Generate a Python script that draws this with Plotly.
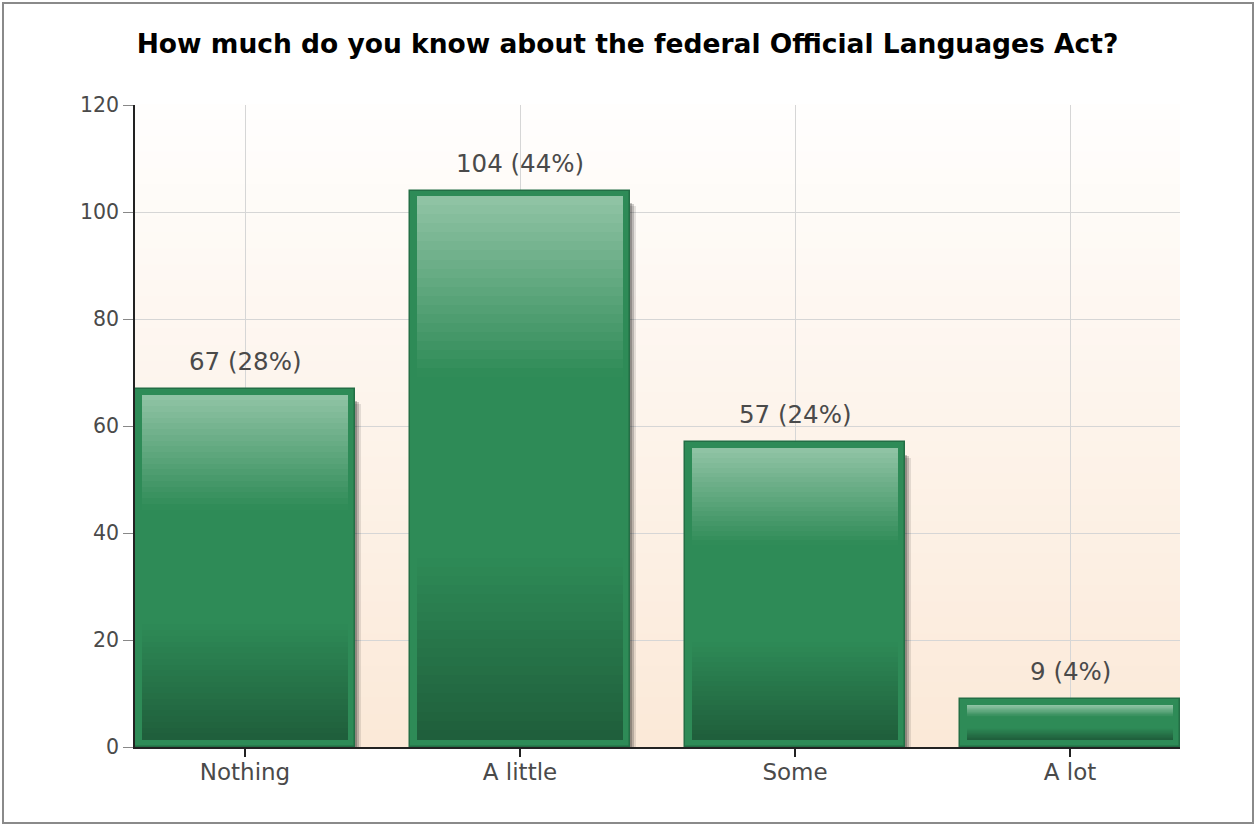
import plotly.graph_objects as go

# Survey responses
categories = ["Nothing", "A little", "Some", "A lot"]
counts = [67, 104, 57, 9]

y_ticks = [0, 20, 40, 60, 80, 100, 120]

# Figure geometry
W, H = 1255, 825
M_L, M_R, M_T, M_B = 135, 75, 105, 78
PLOT_W = W - M_L - M_R
PLOT_H = H - M_T - M_B
X_RANGE = [-0.4, 3.4]
Y_RANGE = [0, 120]
XU = (X_RANGE[1] - X_RANGE[0]) / PLOT_W   # x units per pixel
YU = (Y_RANGE[1] - Y_RANGE[0]) / PLOT_H   # y units per pixel

BAR_W = 0.8
FONT = "DejaVu Sans"
TXT = "#4a4a4a"

total = sum(counts)
labels = [f"{v} ({round(100 * v / total)}%)" for v in counts]


def lerp(c1, c2, t):
    a = [int(c1[i:i + 2], 16) for i in (1, 3, 5)]
    b = [int(c2[i:i + 2], 16) for i in (1, 3, 5)]
    return "rgb(%d,%d,%d)" % tuple(round(a[k] + (b[k] - a[k]) * t) for k in range(3))


# vertical colour profile of the bar fill (0 = top, 1 = bottom)
stops = [(0.0, "#92c4a6"), (0.33, "#2e8b57"), (0.66, "#2e8b57"), (1.0, "#1f5e3b")]


def profile(f):
    for (f0, c0), (f1, c1) in zip(stops[:-1], stops[1:]):
        if f <= f1:
            return lerp(c0, c1, (f - f0) / (f1 - f0) if f1 > f0 else 0)
    return stops[-1][1]


fig = go.Figure()

# soft drop shadow to the right of each bar
for dx, dy, alpha in [(6, 5, 0.10), (4, 3, 0.18), (2, 2, 0.22)]:
    fig.add_trace(go.Bar(
        x=list(range(len(categories))), y=[v - dy * YU for v in counts], base=[-2] * len(counts),
        width=BAR_W, offset=-BAR_W / 2 + dx * XU,
        marker=dict(color=f"rgba(0,0,0,{alpha})", line=dict(width=0)),
        hoverinfo="skip", showlegend=False,
    ))

# outer frame of each bar
fig.add_trace(go.Bar(
    x=list(range(len(categories))), y=counts, width=BAR_W,
    marker=dict(color="#2e8b57", line=dict(color="#236e45", width=1.5)),
    hoverinfo="skip", showlegend=False,
))

# inner gradient, built from thin stacked slices
N = 60
inset_x = 7 * XU
inset_y = 7 * YU
inner_h = [max(v - 2 * inset_y, 0) for v in counts]
for i in range(N):
    f = (i + 0.5) / N
    fig.add_trace(go.Bar(
        x=list(range(len(categories))),
        y=[h / N * 1.15 for h in inner_h],
        base=[inset_y + h * (N - 1 - i) / N for h in inner_h],
        width=BAR_W - 2 * inset_x,
        marker=dict(color=profile(f), line=dict(width=0)),
        hoverinfo="skip", showlegend=False,
    ))

# value labels above the bars
for i, (v, t) in enumerate(zip(counts, labels)):
    fig.add_annotation(
        x=i, y=v, text=t, showarrow=False, yanchor="bottom", yshift=11,
        font=dict(family=FONT, size=24.5, color=TXT),
    )

# plot-area background: white fading to pale peach
NB = 40
for i in range(NB):
    t = (i + 0.5) / NB
    fig.add_shape(
        type="rect", xref="x domain", yref="y domain",
        x0=0, x1=1, y0=1 - (i + 1) / NB, y1=1 - i / NB + 0.002,
        fillcolor=lerp("#fffefd", "#fbe9d8", t), line=dict(width=0), layer="below",
    )

# thin grey frame round the whole figure
fig.add_shape(
    type="rect", xref="paper", yref="paper",
    x0=(3 - M_L) / PLOT_W, x1=(W - 2 - M_L) / PLOT_W,
    y0=-(H - 2 - (H - M_B)) / PLOT_H, y1=1 + (M_T - 3) / PLOT_H,
    line=dict(color="#8a8a8a", width=2), fillcolor="rgba(0,0,0,0)",
)

fig.update_layout(
    width=W, height=H,
    margin=dict(l=M_L, r=M_R, t=M_T, b=M_B, pad=0),
    barmode="overlay",
    bargap=0,
    paper_bgcolor="white",
    plot_bgcolor="rgba(0,0,0,0)",
    showlegend=False,
    title=dict(
        text="How much do you know about the federal Official Languages Act?",
        x=0.5, xanchor="center", xref="container",
        y=1 - 44 / H, yanchor="middle", yref="container",
        font=dict(family=FONT, size=26.5, color="#000000", weight="bold"),
    ),
    xaxis=dict(
        range=X_RANGE, tickmode="array",
        tickvals=list(range(len(categories))), ticktext=categories,
        showgrid=True, gridcolor="#d6d6d6", gridwidth=1,
        showline=True, linecolor="#222222", linewidth=1.5,
        ticks="outside", ticklen=8, tickcolor="#222222", tickwidth=1.5,
        tickfont=dict(family=FONT, size=23, color=TXT),
        ticklabelstandoff=-4,
        zeroline=False, fixedrange=True,
    ),
    yaxis=dict(
        range=Y_RANGE, tickmode="array", tickvals=y_ticks,
        showgrid=True, gridcolor="#d6d6d6", gridwidth=1,
        showline=True, linecolor="#222222", linewidth=1.5,
        ticks="outside", ticklen=10, tickcolor="#888888", tickwidth=1,
        tickfont=dict(family=FONT, size=20.5, color=TXT),
        zeroline=False, fixedrange=True,
    ),
)

fig.write_html("out.html")
